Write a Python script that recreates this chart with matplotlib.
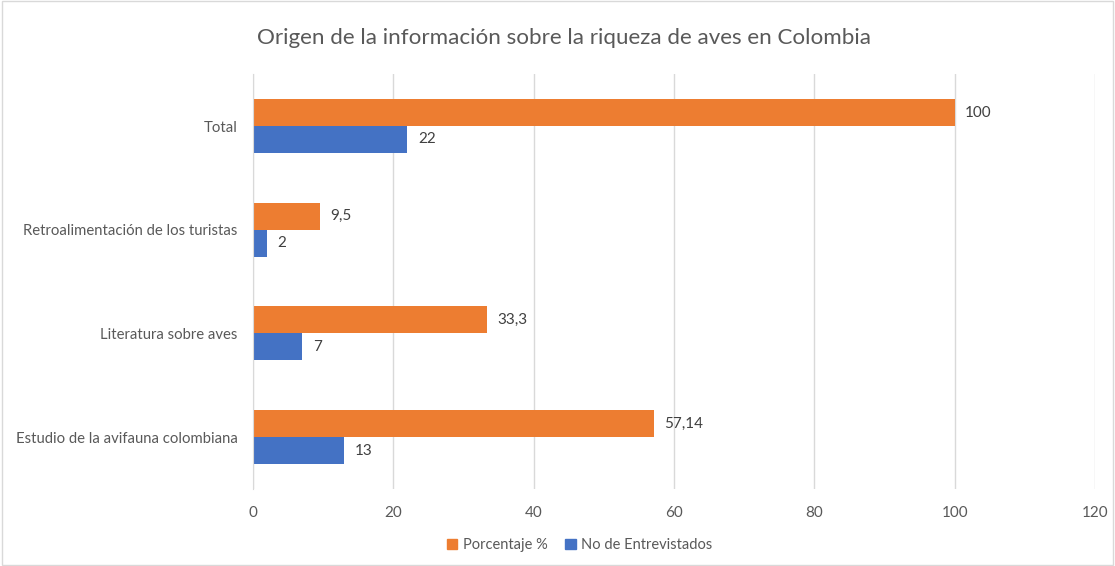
import numpy as np
import matplotlib.pyplot as plt
from matplotlib.patches import Patch

plt.rcParams['font.family'] = ['Lato', 'DejaVu Sans']

categorias = ['Estudio de la avifauna colombiana', 'Literatura sobre aves',
              'Retroalimentación de los turistas', 'Total']
porcentaje = [57.14, 33.3, 9.5, 100]
entrevistados = [13, 7, 2, 22]
etiq_porcentaje = ['57,14', '33,3', '9,5', '100']
etiq_entrevistados = ['13', '7', '2', '22']

naranja = '#ED7D31'
azul = '#4472C4'
gris = '#595959'

fig = plt.figure(figsize=(11.15, 5.66), dpi=100)
ax = fig.add_axes([0.227, 0.136, 0.755, 0.733])

y = np.arange(len(categorias))
h = 0.26
b1 = ax.barh(y + h / 2, porcentaje, height=h, color=naranja, label='Porcentaje %')
b2 = ax.barh(y - h / 2, entrevistados, height=h, color=azul, label='No de Entrevistados')

for bar, t in zip(b1, etiq_porcentaje):
    ax.text(bar.get_width() + 1.5, bar.get_y() + bar.get_height() / 2, t,
            va='center', ha='left', fontsize=11, color='#404040')
for bar, t in zip(b2, etiq_entrevistados):
    ax.text(bar.get_width() + 1.5, bar.get_y() + bar.get_height() / 2, t,
            va='center', ha='left', fontsize=11, color='#404040')

ax.set_xlim(0, 120)
ax.set_ylim(-0.5, 3.5)
ax.set_xticks(range(0, 121, 20))
ax.set_yticks(y)
ax.set_yticklabels(categorias, fontsize=10.7)
ax.tick_params(axis='x', length=0, labelsize=11, colors=gris, pad=12)
ax.tick_params(axis='y', length=0, colors=gris, pad=11)
ax.grid(axis='x', color='#D9D9D9', linewidth=1)
ax.set_axisbelow(True)
for s in ['top', 'right', 'bottom']:
    ax.spines[s].set_visible(False)
ax.spines['left'].set_color('#D9D9D9')

fig.text(0.506, 0.933, 'Origen de la información sobre la riqueza de aves en Colombia',
         ha='center', va='center', fontsize=16.1, color=gris)

handles = [Patch(color=naranja, label='Porcentaje %'),
           Patch(color=azul, label='No de Entrevistados')]
fig.legend(handles=handles, loc='center', bbox_to_anchor=(0.52, 0.037), ncol=2,
           frameon=False, fontsize=10.5, handlelength=0.7, handleheight=0.7,
           columnspacing=1.2, handletextpad=0.4, labelcolor=gris)

border = plt.Rectangle((0.002, 0.002), 0.996, 0.996, transform=fig.transFigure,
                       fill=False, edgecolor='#D9D9D9', linewidth=1)
fig.add_artist(border)

fig.savefig('out.png', dpi=100)
